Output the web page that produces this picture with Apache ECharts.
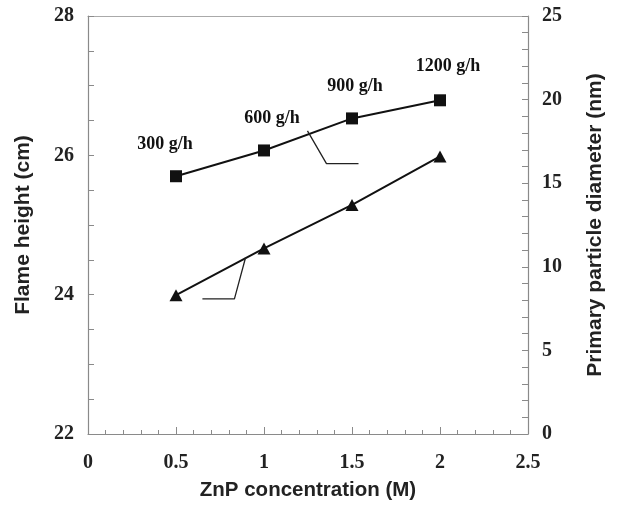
<!DOCTYPE html>
<html><head><meta charset="utf-8">
<script src="https://cdn.jsdelivr.net/npm/echarts@6/dist/echarts.min.js"></script>
<style>html,body{margin:0;padding:0;background:#fff}#c{width:617px;height:513px}</style>
</head><body><div id="c"></div>
<script>
const concentration = [0.5, 1.0, 1.5, 2.0];
const flameHeight = [25.70, 26.07, 26.53, 26.79];
const particleDiameter = [8.3, 11.1, 13.7, 16.6];
const feedLabels = ['300 g/h', '600 g/h', '900 g/h', '1200 g/h'];
const labelOffsets = [[-11, 3], [8, 3], [3, 3], [8, 1]];
const flameLeader = [[1.247, 26.35], [1.355, 25.88], [1.537, 25.88]];
const diamLeader = [[0.895, 24.53], [0.832, 23.94], [0.65, 23.94]];

const axisGrey = '#8a8a8a';
const tickFont = {fontFamily: '"Liberation Serif","Times New Roman",serif', fontWeight: 'bold', fontSize: 20, color: '#222'};
const nameFont = {fontFamily: '"Liberation Sans",Arial,sans-serif', fontWeight: 'bold', fontSize: 21, color: '#222'};

const chart = echarts.init(document.getElementById('c'), null, {renderer: 'canvas'});
chart.setOption({
  animation: false,
  backgroundColor: '#fff',
  grid: {left: 88, right: 89, top: 16, bottom: 79},
  xAxis: [{
    type: 'value', min: 0, max: 2.5, interval: 0.5,
    name: 'ZnP concentration (M)', nameLocation: 'middle', nameGap: 46,
    nameTextStyle: Object.assign({}, nameFont, {fontSize: 20.5}),
    axisLine: {lineStyle: {color: axisGrey, width: 1.2}},
    axisTick: {inside: true, length: 7, lineStyle: {color: axisGrey}},
    minorTick: {show: true, splitNumber: 5, length: 4, lineStyle: {color: axisGrey}},
    axisLabel: Object.assign({margin: 19}, tickFont),
    splitLine: {show: false}
  }, {
    type: 'value', min: 0, max: 2.5, position: 'top',
    axisLine: {show: true, onZero: false, lineStyle: {color: '#aaa', width: 1.2}},
    axisTick: {show: false}, axisLabel: {show: false}, splitLine: {show: false}
  }],
  yAxis: [{
    type: 'value', min: 22, max: 28, interval: 2, position: 'left',
    name: 'Flame height (cm)', nameLocation: 'middle', nameGap: 54, nameTextStyle: nameFont,
    axisLine: {show: true, onZero: false, lineStyle: {color: axisGrey, width: 1.2}},
    axisTick: {inside: true, length: 6, lineStyle: {color: axisGrey}},
    minorTick: {show: true, splitNumber: 4, length: 6, lineStyle: {color: axisGrey}},
    axisLabel: Object.assign({margin: 14}, tickFont),
    splitLine: {show: false}
  }, {
    type: 'value', min: 0, max: 25, interval: 5, position: 'right',
    name: 'Primary particle diameter (nm)', nameLocation: 'middle', nameGap: 57, nameRotate: 90, nameTextStyle: nameFont,
    axisLine: {show: true, onZero: false, lineStyle: {color: axisGrey, width: 1.2}},
    axisTick: {inside: true, length: 6, lineStyle: {color: axisGrey}},
    minorTick: {show: true, splitNumber: 5, length: 6, lineStyle: {color: axisGrey}},
    axisLabel: Object.assign({margin: 14}, tickFont),
    splitLine: {show: false}
  }],
  series: [{
    type: 'line', yAxisIndex: 0,
    data: concentration.map((x, i) => ({
      value: [x, flameHeight[i]],
      label: {show: true, position: 'top', distance: 20, offset: labelOffsets[i],
        formatter: feedLabels[i],
        fontFamily: '"Liberation Serif","Times New Roman",serif', fontWeight: 'bold', fontSize: 18, color: '#111'}
    })),
    symbol: 'rect', symbolSize: 12,
    itemStyle: {color: '#111'}, lineStyle: {color: '#111', width: 2}
  }, {
    type: 'line', yAxisIndex: 1,
    data: concentration.map((x, i) => [x, particleDiameter[i]]),
    symbol: 'triangle', symbolSize: [13, 12],
    itemStyle: {color: '#111'}, lineStyle: {color: '#111', width: 2}
  }, {
    type: 'line', yAxisIndex: 0, data: flameLeader, symbol: 'none', silent: true,
    lineStyle: {color: '#222', width: 1.3}
  }, {
    type: 'line', yAxisIndex: 0, data: diamLeader, symbol: 'none', silent: true,
    lineStyle: {color: '#222', width: 1.3}
  }]
});
</script></body></html>
